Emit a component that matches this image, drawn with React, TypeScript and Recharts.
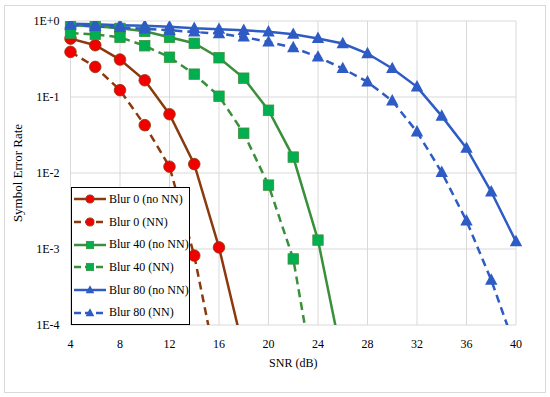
import React from 'react';
import {
  LineChart, Line, XAxis, YAxis, CartesianGrid, Legend,
} from 'recharts';

// SNR values (dB)
const snr = [4, 6, 8, 10, 12, 14, 16, 18, 20, 22, 24, 26, 28, 30, 32, 34, 36, 38, 40];

// symbol error rate per series (null = not measured)
const blur0NoNN = [0.587, 0.48, 0.311, 0.166, 0.0594, 0.0131, 0.00105, 4.5e-5];
const blur0NN = [0.392, 0.249, 0.123, 0.0426, 0.0121, 8.2e-4, 2e-5];
const blur40NoNN = [0.878, 0.852, 0.8, 0.732, 0.61, 0.509, 0.328, 0.177, 0.067, 0.0162, 0.00131, 3.3e-5];
const blur40NN = [0.69, 0.668, 0.61, 0.472, 0.334, 0.2, 0.1025, 0.0334, 0.00693, 7.4e-4, 1e-5];
const blur80NoNN = [0.92, 0.906, 0.88, 0.865, 0.84, 0.8, 0.78, 0.755, 0.72, 0.67, 0.59, 0.505, 0.373, 0.237, 0.136, 0.056, 0.0212, 0.00566, 0.00125];
const blur80NN = [0.88, 0.85, 0.826, 0.79, 0.755, 0.717, 0.683, 0.616, 0.53, 0.447, 0.336, 0.237, 0.158, 0.089, 0.0348, 0.0102, 0.00235, 3.9e-4, 4.7e-5];

const xTicks = [4, 8, 12, 16, 20, 24, 28, 32, 36, 40];
const yTicks = [1, 0.1, 0.01, 0.001, 0.0001];
const yTickLabels = ['1E+0', '1E-1', '1E-2', '1E-3', '1E-4'];

type Kind = 'circle' | 'square' | 'triangle';

const series = [
  { key: 'b0', name: 'Blur 0 (no NN)', values: blur0NoNN, color: '#8B3A0E', dashed: false, kind: 'circle' as Kind },
  { key: 'b0nn', name: 'Blur 0 (NN)', values: blur0NN, color: '#8B3A0E', dashed: true, kind: 'circle' as Kind },
  { key: 'b40', name: 'Blur 40 (no NN)', values: blur40NoNN, color: '#3A8F3A', dashed: false, kind: 'square' as Kind },
  { key: 'b40nn', name: 'Blur 40 (NN)', values: blur40NN, color: '#3A8F3A', dashed: true, kind: 'square' as Kind },
  { key: 'b80', name: 'Blur 80 (no NN)', values: blur80NoNN, color: '#2E5BC4', dashed: false, kind: 'triangle' as Kind },
  { key: 'b80nn', name: 'Blur 80 (NN)', values: blur80NN, color: '#2E5BC4', dashed: true, kind: 'triangle' as Kind },
];

const data = snr.map((x, i) => {
  const row: Record<string, number | null> = { snr: x };
  for (const s of series) row[s.key] = s.values[i] ?? null;
  return row;
});

const FONT = 'Liberation Serif, serif';

function Marker({ kind, cx, cy, scale = 1 }: { kind: Kind; cx: number; cy: number; scale?: number }) {
  if (kind === 'circle') {
    return <circle cx={cx} cy={cy} r={5.8 * scale} fill="#F20000" stroke="#8B3A0E" strokeWidth={0.8} />;
  }
  if (kind === 'square') {
    const h = 5.2 * scale;
    return <rect x={cx - h} y={cy - h} width={2 * h} height={2 * h} fill="#00B050" stroke="#3A8F3A" strokeWidth={0.8} />;
  }
  const w = 6.2 * scale;
  return (
    <polygon
      points={`${cx},${cy - 6.8 * scale} ${cx + w},${cy + 4.6 * scale} ${cx - w},${cy + 4.6 * scale}`}
      fill="#2E5BC4"
    />
  );
}

function LegendBox() {
  return (
    <div style={{
      width: 117, height: 136, border: '1px solid #000', background: '#fff',
      fontFamily: FONT, fontSize: 12, color: '#000',
    }}>
      {series.map((s) => (
        <div key={s.key} style={{ display: 'flex', alignItems: 'center', height: 22.7 }}>
          <svg width={34} height={14} style={{ marginLeft: 2 }}>
            <line
              x1={0} y1={7} x2={32} y2={7}
              stroke={s.color} strokeWidth={2.5}
              strokeDasharray={s.dashed ? '7 4' : undefined}
            />
            <Marker kind={s.kind} cx={16} cy={7} scale={0.7} />
          </svg>
          <span style={{ marginLeft: 1, whiteSpace: 'nowrap' }}>{s.name}</span>
        </div>
      ))}
    </div>
  );
}

export default function App() {
  return (
    <div style={{ position: 'absolute', left: 0, top: 0, width: 550, height: 397, background: '#fff' }}>
      <div style={{
        position: 'absolute', left: 4, top: 5, width: 540, height: 386,
        border: '1px solid #d9d9d9',
      }} />
      <div style={{ position: 'absolute', left: 0, top: 0 }}>
        <LineChart
          width={550}
          height={397}
          data={data}
          margin={{ top: 21, right: 34, left: 0, bottom: 0 }}
        >
          <CartesianGrid stroke="#d9d9d9" strokeWidth={1} />
          <XAxis
            dataKey="snr"
            type="number"
            domain={[4, 40]}
            ticks={xTicks}
            axisLine={false}
            tickLine={false}
            tickMargin={8}
            height={72}
            tick={{ fontSize: 12, fill: '#000', fontFamily: FONT }}
            label={{
              content: (p: any) => {
                const vb = p.viewBox;
                return (
                  <text x={vb.x + vb.width / 2} y={vb.y + 42} textAnchor="middle"
                    fontFamily={FONT} fontSize={12} fill="#000">SNR (dB)</text>
                );
              },
            }}
          />
          <YAxis
            scale="log"
            domain={[0.0001, 1]}
            allowDataOverflow
            ticks={yTicks}
            tickFormatter={(v: number) => yTickLabels[yTicks.indexOf(v)] ?? ''}
            axisLine={false}
            tickLine={false}
            tickMargin={5}
            width={70.5}
            tick={{ fontSize: 12, fill: '#000', fontFamily: FONT }}
            label={{
              content: (p: any) => {
                const vb = p.viewBox;
                const cx = 17;
                const cy = vb.y + vb.height / 2;
                return (
                  <text x={cx} y={cy} transform={`rotate(-90 ${cx} ${cy})`} textAnchor="middle"
                    dominantBaseline="central" fontFamily={FONT} fontSize={13} fill="#000">
                    Symbol Error Rate
                  </text>
                );
              },
            }}
          />
          {series.map((s) => (
            <Line
              key={s.key}
              dataKey={s.key}
              name={s.name}
              type="linear"
              stroke={s.color}
              strokeWidth={2.5}
              strokeDasharray={s.dashed ? '8 5' : undefined}
              isAnimationActive={false}
              connectNulls={false}
              activeDot={false}
              dot={(p: any) => {
                if (p.cy == null || p.cx == null || p.value == null) return <g key={p.key ?? p.index} />;
                return (
                  <g key={p.key ?? p.index}>
                    <Marker kind={s.kind} cx={p.cx} cy={p.cy} />
                  </g>
                );
              }}
            />
          ))}
          <Legend
            layout="vertical"
            align="center"
            verticalAlign="middle"
            wrapperStyle={{ left: 71, top: 187, width: 119, height: 138 }}
            content={() => <LegendBox />}
          />
        </LineChart>
      </div>
    </div>
  );
}
